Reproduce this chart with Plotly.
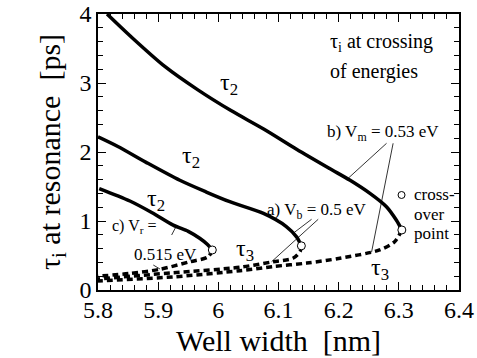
import plotly.graph_objects as go

# ---- data ----
# tau_2 (solid) branches, ending at crossover point
b_tau2_x = [5.815, 5.855, 5.911, 5.966, 6.021, 6.076, 6.130, 6.185, 6.219, 6.252, 6.279, 6.296, 6.305]
b_tau2_y = [4.00, 3.67, 3.24, 2.90, 2.60, 2.33, 2.04, 1.76, 1.59, 1.40, 1.21, 1.01, 0.87]
a_tau2_x = [5.800, 5.833, 5.880, 5.936, 5.980, 6.019, 6.075, 6.113, 6.130, 6.138]
a_tau2_y = [2.22, 2.08, 1.85, 1.59, 1.42, 1.28, 1.11, 0.92, 0.77, 0.64]
c_tau2_x = [5.802, 5.853, 5.890, 5.925, 5.950, 5.969, 5.982, 5.990]
c_tau2_y = [1.47, 1.29, 1.12, 0.94, 0.85, 0.75, 0.66, 0.58]
# tau_3 (dashed) branches, starting at crossover point
b_tau3_x = [6.305, 6.293, 6.268, 6.202, 6.147, 6.091, 6.036, 5.925, 5.800]
b_tau3_y = [0.87, 0.70, 0.58, 0.46, 0.39, 0.34, 0.28, 0.19, 0.13]
a_tau3_x = [6.138, 6.136, 6.124, 6.091, 6.036, 5.925, 5.800]
a_tau3_y = [0.64, 0.56, 0.46, 0.41, 0.33, 0.25, 0.16]
c_tau3_x = [5.990, 5.983, 5.953, 5.903, 5.853, 5.800]
c_tau3_y = [0.58, 0.48, 0.41, 0.30, 0.24, 0.20]

# leader lines (x0, y0, x1, y1) in data units
leaders = [
    (6.2796, 2.126, 6.2158, 1.619),
    (6.2905, 2.126, 6.2546, 0.546),
    (6.155, 1.025, 6.1244, 0.822),
    (6.166, 1.025, 6.0885, 0.410),
    (5.9224, 0.797, 5.9296, 0.917),
    (5.8919, 0.362, 5.903, 0.304),
]

x_range = [5.8, 6.4]
y_range = [0, 4]
x_title = "Well width  [nm]"
y_title = "τ<sub>i</sub> at resonance  [ps]"

FONT = "Liberation Serif, Times New Roman, DejaVu Serif, serif"
fig = go.Figure()

for xs, ys in [(b_tau2_x, b_tau2_y), (a_tau2_x, a_tau2_y), (c_tau2_x, c_tau2_y)]:
    fig.add_trace(go.Scatter(x=xs, y=ys, mode="lines", line=dict(color="black", width=3.5, shape="spline", smoothing=0.8),
                             showlegend=False, hoverinfo="skip"))
for xs, ys in [(b_tau3_x, b_tau3_y), (a_tau3_x, a_tau3_y), (c_tau3_x, c_tau3_y)]:
    fig.add_trace(go.Scatter(x=xs, y=ys, mode="lines", line=dict(color="black", width=3.5, dash="6px,4px", shape="spline", smoothing=0.8),
                             showlegend=False, hoverinfo="skip"))

# crossover points
cx = [b_tau3_x[0], a_tau3_x[0], c_tau3_x[0]]
cy = [b_tau3_y[0], a_tau3_y[0], c_tau3_y[0]]
fig.add_trace(go.Scatter(x=cx, y=cy, mode="markers",
                         marker=dict(symbol="circle", size=8, color="white", line=dict(color="black", width=1)),
                         showlegend=False, hoverinfo="skip"))
# legend marker
fig.add_trace(go.Scatter(x=[6.3045], y=[1.377], mode="markers",
                         marker=dict(symbol="circle", size=7, color="white", line=dict(color="black", width=1)),
                         showlegend=False, hoverinfo="skip"))

for (x0, y0, x1, y1) in leaders:
    fig.add_shape(type="line", x0=x0, y0=y0, x1=x1, y1=y1, line=dict(color="black", width=0.8), layer="above")

def ann(x, y, text, size=17, xanchor="left", yanchor="middle"):
    fig.add_annotation(x=x, y=y, text=text, showarrow=False, xanchor=xanchor, yanchor=yanchor,
                       font=dict(family=FONT, size=size, color="black"))

ann(6.182, 3.58, "τ<sub>i</sub> at crossing", 20)
ann(6.182, 3.16, "of energies", 20)
ann(6.177, 2.28, "b) V<sub>m</sub> = 0.53 eV", 17)
ann(6.077, 1.15, "a) V<sub>b</sub> = 0.5 eV", 17)
ann(5.82, 0.92, "c) V<sub>r</sub> =", 16)
ann(5.856, 0.51, "0.515 eV", 17)
ann(6.3216, 1.377, "cross-", 17)
ann(6.3216, 1.10, "over", 17)
ann(6.3216, 0.82, "point", 17)
ann(6.000, 2.98, "τ<sub>2</sub>", 24)
ann(5.937, 1.93, "τ<sub>2</sub>", 24)
ann(5.878, 1.30, "τ<sub>2</sub>", 24)
ann(6.026, 0.58, "τ<sub>3</sub>", 24)
ann(6.250, 0.31, "τ<sub>3</sub>", 24)

# x-axis title as paper-positioned text
fig.add_annotation(x=0.5, y=-0.182, xref="paper", yref="paper", text=x_title, showarrow=False,
                   xanchor="center", yanchor="middle", font=dict(family=FONT, size=30, color="black"))

axis_common = dict(showline=True, linecolor="black", linewidth=1.5, mirror="ticks",
                   ticks="inside", ticklen=8, tickwidth=1.2, tickcolor="black",
                   showgrid=False, zeroline=False, automargin=False,
                   tickfont=dict(family=FONT, size=24, color="black"))

fig.update_xaxes(range=x_range, dtick=0.1, tick0=5.8, ticklabelstandoff=-3,
                 minor=dict(dtick=0.02, ticks="inside", ticklen=5, tickcolor="black", tickwidth=1),
                 **axis_common)
fig.update_yaxes(range=y_range, dtick=1, tick0=0,
                 minor=dict(dtick=0.2, ticks="inside", ticklen=5, tickcolor="black", tickwidth=1),
                 title=dict(text=y_title, font=dict(family=FONT, size=30, color="black"), standoff=10),
                 **axis_common)

fig.update_layout(width=477, height=358, margin=dict(l=98, r=18, t=14, b=68, autoexpand=False),
                  paper_bgcolor="white", plot_bgcolor="white", showlegend=False,
                  font=dict(family=FONT, color="black"))

fig.write_html("out.html", config={"displayModeBar": False},
               post_script="document.body.style.margin='0';")
